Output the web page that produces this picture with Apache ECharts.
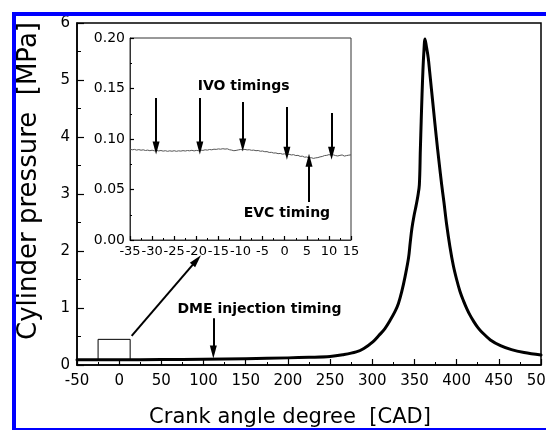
<!DOCTYPE html>
<html>
<head>
<meta charset="utf-8">
<script src="https://cdn.jsdelivr.net/npm/echarts@6/dist/echarts.min.js"></script>
<style>
  html, body { margin: 0; padding: 0; background: #fff; }
  #chart { width: 546px; height: 430px; }
</style>
</head>
<body>
<div id="chart"></div>
<script>
// Full-cycle cylinder pressure trace (crank angle in CAD, pressure in MPa)
var cadMain = [-50, 0, 50, 100, 150, 200, 225, 250, 265, 281, 290, 301, 308, 315, 321, 327, 331, 335, 339, 343,
  345, 347, 349.5, 352, 354, 355.8, 357, 358, 359, 360, 361, 362.5, 364, 366.4, 368, 370.4, 373, 375.6, 379, 382.3, 385,
  388.2, 392, 396, 400, 404, 408, 412, 416, 420, 425, 430, 440, 452, 465, 480, 500];
var pressureMain = [0.09, 0.09, 0.095, 0.10, 0.11, 0.125, 0.135, 0.15, 0.18, 0.23, 0.29, 0.41, 0.52, 0.64, 0.78, 0.94, 1.08, 1.29, 1.56, 1.88,
  2.15, 2.40, 2.62, 2.80, 2.96, 3.16, 3.78, 4.28, 4.75, 5.15, 5.45, 5.72, 5.60, 5.38, 5.15, 4.80, 4.42, 4.04, 3.58, 3.16, 2.85,
  2.46, 2.08, 1.75, 1.50, 1.29, 1.13, 0.99, 0.87, 0.77, 0.66, 0.575, 0.44, 0.34, 0.27, 0.22, 0.175];

// Close-up of the gas exchange period (-35 .. 15 CAD)
var cadInset = [-35, -34.5, -34, -33.5, -33, -32.5, -32, -31.5, -31, -30.5, -30, -29.5, -29, -28.5, -28, -27.5, -27, -26.5, -26, -25.5,
  -25, -24.5, -24, -23.5, -23, -22.5, -22, -21.5, -21, -20.5, -20, -19.5, -19, -18.5, -18, -17.5, -17, -16.5, -16, -15.5,
  -15, -14.5, -14, -13.5, -13, -12.5, -12, -11.5, -11, -10.5, -10, -9.5, -9, -8.5, -8, -7.5, -7, -6.5, -6, -5.5,
  -5, -4.5, -4, -3.5, -3, -2.5, -2, -1.5, -1, -0.5, 0, 0.5, 1, 1.5, 2, 2.5, 3, 3.5, 4, 4.5,
  5, 5.5, 6, 6.5, 7, 7.5, 8, 8.5, 9, 9.5, 10, 10.5, 11, 11.5, 12, 12.5, 13, 13.5, 14, 14.5, 15];
var pressureInset = [0.0900, 0.0893, 0.0897, 0.0890, 0.0895, 0.0889, 0.0893, 0.0886, 0.0890, 0.0884, 0.0889, 0.0883, 0.0887, 0.0882, 0.0886, 0.0880, 0.0884, 0.0878, 0.0883, 0.0879,
  0.0884, 0.0878, 0.0883, 0.0880, 0.0885, 0.0881, 0.0886, 0.0883, 0.0888, 0.0882, 0.0887, 0.0884, 0.0890, 0.0887, 0.0893, 0.0890, 0.0896, 0.0893, 0.0899, 0.0897,
  0.0902, 0.0899, 0.0904, 0.0900, 0.0903, 0.0894, 0.0890, 0.0884, 0.0887, 0.0892, 0.0896, 0.0893, 0.0897, 0.0892, 0.0894, 0.0888, 0.0890, 0.0884, 0.0886, 0.0879,
  0.0881, 0.0874, 0.0875, 0.0867, 0.0868, 0.0861, 0.0862, 0.0855, 0.0857, 0.0850, 0.0853, 0.0846, 0.0849, 0.0842, 0.0845, 0.0836, 0.0838, 0.0828, 0.0830, 0.0820,
  0.0822, 0.0812, 0.0815, 0.0808, 0.0813, 0.0816, 0.0823, 0.0827, 0.0836, 0.0838, 0.0845, 0.0841, 0.0843, 0.0836, 0.0832, 0.0838, 0.0842, 0.0831, 0.0836, 0.0840, 0.0843];

// Annotation arrows: [x from, y from, x to, y to]
var zoomArrow = [14.8, 0.51, 91.9, 1.84];
var dmeArrow = [111.6, 0.82, 111.6, 0.23];
var ivoArrows = [
  [-29.1, 0.1406, -29.1, 0.091],
  [-19.2, 0.1406, -19.2, 0.091],
  [-9.5, 0.1366, -9.5, 0.094],
  [0.5, 0.1317, 0.5, 0.086],
  [10.6, 0.1257, 10.6, 0.086]
];
var evcArrow = [5.5, 0.0376, 5.5, 0.079];
// Region of the trace shown in the close-up
var zoomBox = [[-25, 0.08], [13, 0.45]];

// Axis tick settings
var mainX = { min: -50, max: 500, interval: 50 };
var mainY = { min: 0, max: 6, interval: 1 };
var insetX = { min: -35, max: 15, interval: 5 };
var insetY = { min: 0, max: 0.2, interval: 0.05 };

var FONT = 'DejaVu Sans';

function pairs(xs, ys) {
  return xs.map(function (x, i) { return [x, ys[i]]; });
}
function arrow(a) {
  return [
    { coord: [a[0], a[1]], symbol: 'none' },
    { coord: [a[2], a[3]], symbol: 'triangle', symbolSize: [7, 13] }
  ];
}
function note(text, x, y) {
  return {
    coord: [x, y], symbol: 'circle', symbolSize: 1,
    itemStyle: { color: 'rgba(0,0,0,0)' },
    label: { show: true, position: 'inside', formatter: text,
      fontFamily: FONT, fontWeight: 'bold', fontSize: 14, color: '#000' }
  };
}

var chart = echarts.init(document.getElementById('chart'), null, { renderer: 'canvas' });

function axisCommon(fontSize) {
  return {
    axisLine: { show: true, onZero: false, lineStyle: { color: '#000', width: 1.5 } },
    axisTick: { show: true, inside: true, length: 6, lineStyle: { color: '#000', width: 1.2 } },
    minorTick: { show: true, splitNumber: 2, length: 3, lineStyle: { color: '#000', width: 1 } },
    splitLine: { show: false },
    axisLabel: { fontFamily: FONT, fontSize: fontSize, color: '#000', margin: 7,
      hideOverlap: false, showMinLabel: true, showMaxLabel: true }
  };
}

var xMain = Object.assign(axisCommon(15), { type: 'value', gridIndex: 0, min: mainX.min, max: mainX.max, interval: mainX.interval });
xMain.axisLabel.margin = 9;
var yMain = Object.assign(axisCommon(15), { type: 'value', gridIndex: 0, min: mainY.min, max: mainY.max, interval: mainY.interval });
yMain.axisTick.length = 7;
yMain.minorTick.length = 4;

var xInset = Object.assign(axisCommon(13), { type: 'value', gridIndex: 1, min: insetX.min, max: insetX.max, interval: insetX.interval });
xInset.axisLine.lineStyle = { color: '#333', width: 1 };
xInset.axisTick.length = 4;
xInset.minorTick.length = 2;
xInset.axisLabel.margin = 5;
var yInset = Object.assign(axisCommon(14), { type: 'value', gridIndex: 1, min: insetY.min, max: insetY.max, interval: insetY.interval });
yInset.axisLine.lineStyle = { color: '#333', width: 1 };
yInset.axisTick.length = 4;
yInset.minorTick.length = 2;
yInset.axisLabel.margin = 5;
yInset.axisLabel.formatter = function (v) { return v.toFixed(2); };

chart.setOption({
  animation: false,
  backgroundColor: '#fff',
  grid: [
    { left: 77, top: 23, right: 5, bottom: 65, show: true, borderColor: '#000', borderWidth: 1.5,
      backgroundColor: 'transparent', containLabel: false, outerBoundsMode: 'none' },
    { left: 130, top: 38, width: 221, height: 202, show: true, borderColor: '#333', borderWidth: 1,
      backgroundColor: '#fff', containLabel: false, outerBoundsMode: 'none' }
  ],
  xAxis: [xMain, xInset],
  yAxis: [yMain, yInset],
  graphic: [
    { type: 'rect', shape: { x: 12, y: 12, width: 540, height: 4 }, style: { fill: '#0000ff' }, z: 100 },
    { type: 'rect', shape: { x: 12, y: 12, width: 4, height: 420 }, style: { fill: '#0000ff' }, z: 100 },
    { type: 'rect', shape: { x: 12, y: 428, width: 540, height: 4 }, style: { fill: '#0000ff' }, z: 100 },
    { type: 'text', x: 29, y: 181, rotation: Math.PI / 2,
      style: { text: 'Cylinder pressure  [MPa]', font: '26px "DejaVu Sans"', fill: '#000', textAlign: 'center', textVerticalAlign: 'middle' } },
    { type: 'text', x: 290, y: 418,
      style: { text: 'Crank angle degree  [CAD]', font: '21px "DejaVu Sans"', fill: '#000', textAlign: 'center', textVerticalAlign: 'middle' } }
  ],
  series: [
    {
      type: 'line', xAxisIndex: 0, yAxisIndex: 0,
      data: pairs(cadMain, pressureMain),
      showSymbol: false, smooth: 0.35,
      lineStyle: { color: '#000', width: 3, join: 'round', cap: 'round' },
      markArea: {
        silent: true,
        itemStyle: { color: 'rgba(0,0,0,0)', borderColor: '#000', borderWidth: 1 },
        data: [[{ coord: zoomBox[0] }, { coord: zoomBox[1] }]]
      },
      markLine: {
        silent: true, animation: false,
        label: { show: false },
        lineStyle: { color: '#000', width: 2, type: 'solid' },
        data: [arrow(zoomArrow), arrow(dmeArrow)]
      },
      markPoint: {
        silent: true,
        data: [note('DME injection timing', 166.3, 0.98)]
      }
    },
    {
      type: 'line', xAxisIndex: 1, yAxisIndex: 1,
      data: pairs(cadInset, pressureInset),
      showSymbol: false,
      lineStyle: { color: '#555', width: 1 },
      markLine: {
        silent: true, animation: false,
        label: { show: false },
        lineStyle: { color: '#000', width: 2, type: 'solid' },
        data: ivoArrows.map(arrow).concat([arrow(evcArrow)])
      },
      markPoint: {
        silent: true,
        data: [note('IVO timings', -9.3, 0.1525), note('EVC timing', 0.5, 0.0267)]
      }
    }
  ]
});
</script>
</body>
</html>
